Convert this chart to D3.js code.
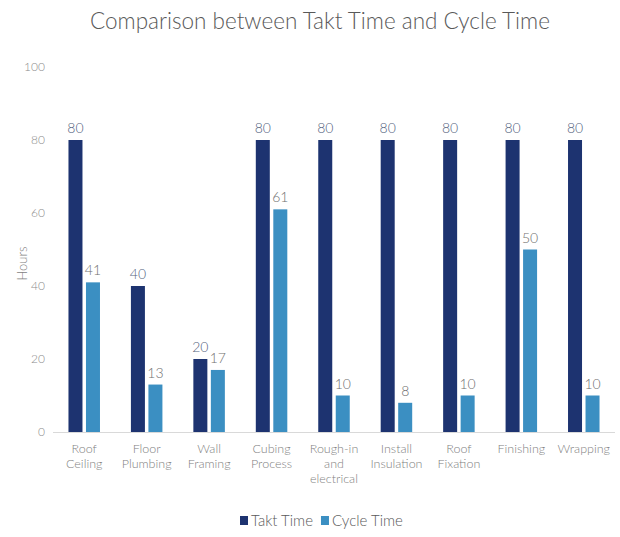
<!DOCTYPE html>
<html>
<head>
<meta charset="utf-8">
<script src="https://cdn.jsdelivr.net/npm/d3@7"></script>
<style>
  body { margin: 0; background: #fff; }
  svg { font-family: Lato, "Open Sans", sans-serif; font-weight: 300; }
</style>
</head>
<body>
<svg width="620" height="537"></svg>
<script>
const categories = [
    ['Roof', 'Ceiling'],
    ['Floor', 'Plumbing'],
    ['Wall', 'Framing'],
    ['Cubing', 'Process'],
    ['Rough-in', 'and', 'electrical'],
    ['Install', 'Insulation'],
    ['Roof', 'Fixation'],
    ['Finishing'],
    ['Wrapping']
];
const taktTime = [80, 40, 20, 80, 80, 80, 80, 80, 80];
const cycleTime = [41, 13, 17, 61, 10, 8, 10, 50, 10];
const yTicks = [0, 20, 40, 60, 80, 100];
const seriesNames = ['Takt Time', 'Cycle Time'];
const colors = ['#1d3370', '#3b8fc2'];

const svg = d3.select('svg');
const plotLeft = 53, plotRight = 615, plotTop = 67, plotBottom = 432;

const x = d3.scaleBand()
    .domain(d3.range(categories.length))
    .range([plotLeft, plotRight]);

const y = d3.scaleLinear()
    .domain([0, 100])
    .range([plotBottom, plotTop]);

const barW = 14, gap = 3.5;

// title
svg.append('text')
    .attr('x', 320)
    .attr('y', 29)
    .attr('text-anchor', 'middle')
    .style('font-size', '22.5px')
    .style('fill', '#595959')
    .text('Comparison between Takt Time and Cycle Time');

// y axis (labels only)
const yAxis = svg.append('g')
    .attr('transform', `translate(${plotLeft - 8},0)`)
    .call(d3.axisLeft(y).tickValues(yTicks).tickSize(0).tickPadding(0));
yAxis.select('.domain').remove();
yAxis.selectAll('text')
    .style('font-size', '12px')
    .style('fill', '#8c8c8c')
    .style('font-family', 'Lato, sans-serif')
    .style('font-weight', 300);

svg.append('text')
    .attr('transform', `translate(27,${(plotTop + plotBottom) / 2 + 14}) rotate(-90)`)
    .attr('text-anchor', 'middle')
    .style('font-size', '13px')
    .style('fill', '#7f7f7f')
    .text('Hours');

// baseline
svg.append('line')
    .attr('x1', plotLeft).attr('x2', plotRight)
    .attr('y1', plotBottom + 0.5).attr('y2', plotBottom + 0.5)
    .style('stroke', '#d9d9d9');

const series = [taktTime, cycleTime];
series.forEach((vals, s) => {
    const g = svg.append('g');
    const xPos = i => x(i) + x.bandwidth() / 2 + (s === 0 ? -gap / 2 - barW : gap / 2);
    g.selectAll('rect')
        .data(vals)
        .enter()
        .append('rect')
        .attr('x', (d, i) => xPos(i))
        .attr('y', d => y(d))
        .attr('width', barW)
        .attr('height', d => plotBottom - y(d))
        .style('fill', colors[s]);
    g.selectAll('text')
        .data(vals)
        .enter()
        .append('text')
        .attr('x', (d, i) => xPos(i) + barW / 2)
        .attr('y', d => y(d) - 7)
        .attr('text-anchor', 'middle')
        .style('font-size', '14px')
        .style('fill', s === 0 ? '#56657f' : '#707070')
        .text(d => d);
});

// category labels
const catG = svg.append('g');
categories.forEach((lines, i) => {
    const t = catG.append('text')
        .attr('x', x(i) + x.bandwidth() / 2)
        .attr('y', 453)
        .attr('text-anchor', 'middle')
        .style('font-size', '12.5px')
        .style('fill', '#7f7f7f');
    lines.forEach((ln, j) => {
        t.append('tspan')
            .attr('x', x(i) + x.bandwidth() / 2)
            .attr('dy', j === 0 ? 0 : 15)
            .text(ln);
    });
});

// legend
const legend = svg.append('g').attr('transform', 'translate(240,526)');
let lx = 0;
seriesNames.forEach((name, s) => {
    legend.append('rect')
        .attr('x', lx).attr('y', -10)
        .attr('width', 8).attr('height', 9)
        .style('fill', colors[s]);
    const t = legend.append('text')
        .attr('x', lx + 11).attr('y', 0)
        .style('font-size', '15px')
        .style('fill', '#595959')
        .text(name);
    lx += 11 + t.node().getComputedTextLength() + 8;
});
</script>
</body>
</html>
